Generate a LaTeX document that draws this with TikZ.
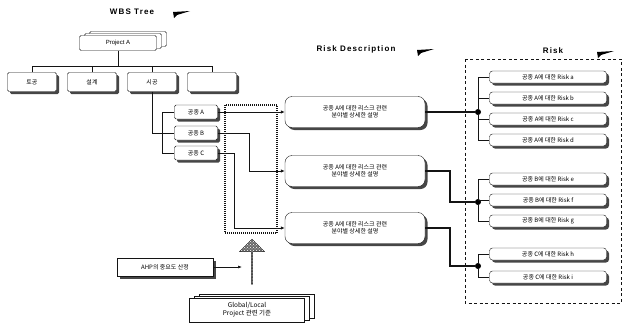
\documentclass[tikz,border=0pt]{standalone}
\usepackage{fontspec}
\setmainfont{Liberation Sans}
\newfontfamily\kr{Noto Sans CJK KR}
\newfontfamily\titulo[LetterSpace=14]{Liberation Sans}
\usetikzlibrary{arrows.meta,positioning,shapes.arrows,shadows,patterns}
\definecolor{corsombra}{RGB}{70,70,70}
\definecolor{corlinha}{RGB}{20,20,20}

\begin{document}
\begin{tikzpicture}[x=1pt, y=-1pt,
  sombra/.style={drop shadow={shadow xshift=2.5pt, shadow yshift=-2.5pt, fill=corsombra, opacity=1}},
  pilha/.style={double copy shadow={shadow xshift=5pt, shadow yshift=2pt}},
  caixa/.style={rectangle, draw=corlinha, fill=white, rounded corners=1.5pt,
                inner sep=1pt, align=center, font=\kr\fontsize{6}{7}\selectfont},
  desc/.style={caixa, rounded corners=7pt, minimum width=140pt, minimum height=31pt},
  risco/.style={caixa, rounded corners=3pt, minimum width=117pt, minimum height=12pt},
  ponto/.style={circle, fill=black, inner sep=0pt, minimum size=6pt},
  titulo/.style={font=\titulo\fontsize{8}{9}\selectfont\bfseries},
  bandeira/.style={fill=black},
  fio/.style={draw=corlinha, line width=0.6pt},
  seta/.style={-{Latex[length=4pt, width=3.5pt]}, line width=1pt, color=corlinha},
  grossa/.style={line width=1.8pt, color=corlinha},
  pontilhado/.style={line width=1.6pt, dash pattern=on 1pt off 1pt, color=corlinha},
  tracejado/.style={line width=0.8pt, dash pattern=on 3pt off 2.5pt, color=corlinha}
]
  \useasboundingbox (0,0) rectangle (625,327);

  % titles
  \node[titulo] (tWBS) at (132,12) {WBS Tree};
  \node[titulo] (tDesc) at (356,49) {Risk Description};
  \node[titulo] (tRisk) at (553,51) {Risk};
  \fill[bandeira] (173,12) -- (190,11) -- (177,15) -- (174,18) -- cycle;
  \fill[bandeira] (417,50) -- (434,49) -- (421,53) -- (418,56) -- cycle;
  \fill[bandeira] (597,52) -- (614,51) -- (601,55) -- (598,58) -- cycle;

  % WBS tree
  \node[caixa, pilha, minimum width=77pt, minimum height=15pt, font=\fontsize{6}{7}\selectfont] (proj) at (118,43) {Project A};
  \node[caixa, sombra, minimum width=49pt, minimum height=19pt] (w1) at (32,82) {토공};
  \node[caixa, sombra, minimum width=49pt, minimum height=19pt] (w2) at (92,82) {설계};
  \node[caixa, sombra, minimum width=49pt, minimum height=19pt] (w3) at (152,82) {시공};
  \node[caixa, sombra, minimum width=49pt, minimum height=19pt] (w4) at (212,82) {};
  \coordinate (barra) at (0,66);
  \draw[fio] (proj.south) -- (proj.south |- barra);
  \draw[fio] (w1.north) |- (w4.north |- barra) -- (w4.north);
  \draw[fio] (w2.north) -- (w2.north |- barra);
  \draw[fio] (w3.north) -- (w3.north |- barra);

  \node[caixa, sombra, minimum width=43pt, minimum height=14pt] (gA) at (196,112) {공종 A};
  \node[caixa, sombra, minimum width=43pt, minimum height=14pt] (gB) at (196,133) {공종 B};
  \node[caixa, sombra, minimum width=43pt, minimum height=14pt] (gC) at (196,153) {공종 C};
  \draw[fio] (w3.south) |- (gB.west);
  \draw[fio] (gA.west) -- ++(-12,0) |- (gC.west);

  \draw[pontilhado] (225,105) rectangle (277,233);

  % risk descriptions
  \node[desc, sombra] (dA) at (355,112) {공종 A에 대한 리스크 관련\\분야별 상세한 설명};
  \node[desc, sombra] (dB) at (355,171) {공종 A에 대한 리스크 관련\\분야별 상세한 설명};
  \node[desc, sombra] (dC) at (355,228) {공종 A에 대한 리스크 관련\\분야별 상세한 설명};
  \draw[seta] (gA.east) -- (dA.west);
  \draw[seta] (gB.east) -- ++(32,0) |- (dB.west);
  \draw[seta] (gC.east) -- ++(17,0) |- (dC.west);

  % AHP input
  \node[caixa, sombra, rounded corners=0pt, minimum width=96pt, minimum height=18pt] (ahp) at (165,267) {AHP의 중요도 산정};
  \node[single arrow, shape border rotate=90, draw=corlinha, fill=corsombra!80,
        postaction={pattern=crosshatch dots, pattern color=white},
        minimum width=25pt, minimum height=45pt, single arrow head extend=3pt, inner sep=0pt] (ent) at (252,262) {};
  \draw[-{Latex[length=4pt, width=3pt]}, fio, shorten >=10pt] (ahp.east) -- (ahp.east -| ent);
  \node[caixa, pilha, rounded corners=0pt, minimum width=115pt, minimum height=24pt, font=\kr\fontsize{6.5}{8}\selectfont] (glob) at (247,310) {Global/Local\\Project 관련 기준};

  % risks
  \draw[tracejado] (465,59) rectangle (621,303);
  \node[ponto] (jA) at (478,112) {};
  \node[ponto] (jB) at (478,202) {};
  \node[ponto] (jC) at (478,266) {};
  \foreach \nome/\y/\txt in {rA1/77/A에 대한 Risk a, rA2/98/A에 대한 Risk b, rA3/119/A에 대한 Risk c, rA4/140/A에 대한 Risk d,
                             rB1/179/B에 대한 Risk e, rB2/200/B에 대한 Risk f, rB3/221/B에 대한 Risk g,
                             rC1/254/C에 대한 Risk h, rC2/277/C에 대한 Risk i}
    \node[risco, sombra] (\nome) at (548,\y) {공종 \txt};
  \draw[fio] (rA1.west) -| (jA) |- (rA4.west);
  \draw[fio] (jA) |- (rA2.west);
  \draw[fio] (jA) |- (rA3.west);
  \draw[fio] (rB1.west) -| (jB) |- (rB3.west);
  \draw[fio] (jB) |- (rB2.west);
  \draw[fio] (rC1.west) -| (jC) |- (rC2.west);
  \draw[grossa] (dA.east) -- (jA);
  \draw[grossa] (dB.east) -- ++(25,0) |- (jB);
  \draw[grossa] (dC.east) -- ++(25,0) |- (jC);
\end{tikzpicture}
\end{document}
